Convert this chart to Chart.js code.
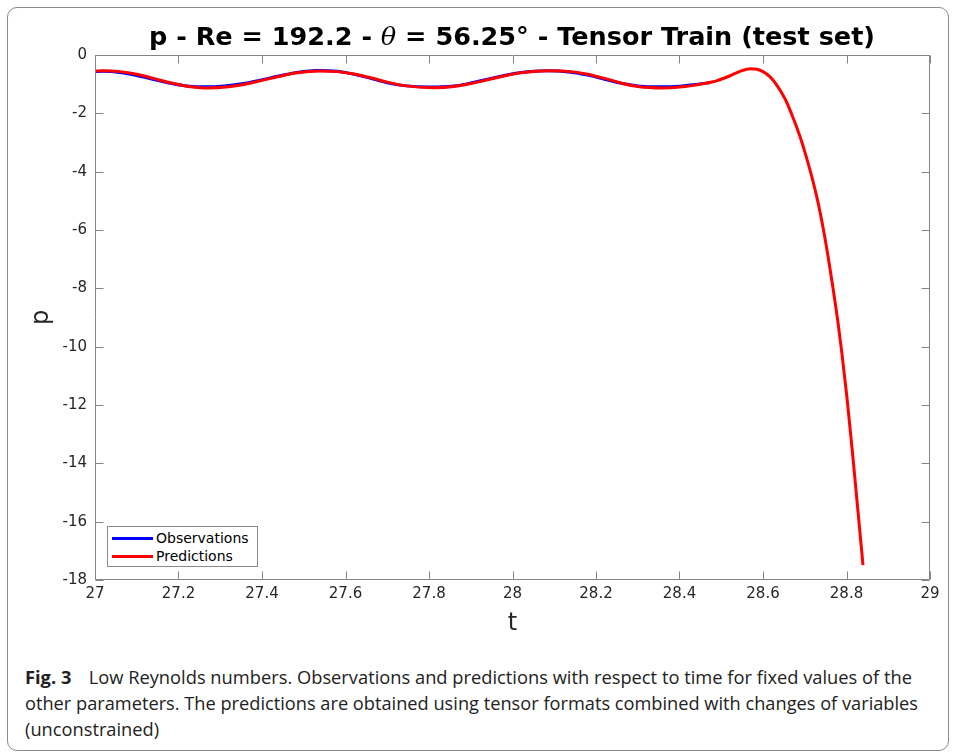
<!DOCTYPE html>
<html>
<head>
<meta charset="utf-8">
<script src="https://cdn.jsdelivr.net/npm/chart.js@4"></script>
<style>
  html, body { margin:0; padding:0; background:#fff; width:956px; height:753px; overflow:hidden; }
  #frame { position:absolute; left:7px; top:7px; width:942px; height:744px; border:1px solid #8a8a8a; border-radius:10px; box-sizing:border-box; }
  #chartBox { position:absolute; left:0; top:0; width:956px; height:650px; }
  #title { position:absolute; left:149px; top:22px; white-space:nowrap; font-family:'DejaVu Sans'; font-weight:bold; font-size:24px; line-height:30px; color:#000; transform-origin:left top; }
  #title i { font-family:'DejaVu Serif'; font-weight:normal; font-style:italic; }
  #legend { position:absolute; left:107px; top:526px; width:151px; height:41px; border:1px solid #8a8a8a; background:#fff; box-sizing:border-box; font-family:'DejaVu Sans'; font-size:14px; color:#000; }
  .lg { position:absolute; left:4px; height:18px; line-height:18px; white-space:nowrap; }
  .lg span.sw { display:inline-block; width:41px; height:3px; vertical-align:middle; margin-right:3px; position:relative; top:-1px; }
  .cap { position:absolute; left:25px; white-space:nowrap; font-family:'Open Sans'; font-size:18px; line-height:24px; color:#222; transform-origin:left top; }
  .cap b { font-weight:bold; margin-right:17px; }
</style>
</head>
<body>
<div id="frame"></div>
<div id="chartBox"><canvas id="c" width="956" height="650"></canvas></div>
<div id="title">p - Re = 192.2 - <i>θ</i> = 56.25° - Tensor Train (test set)</div>
<div id="legend"></div>
<div class="cap" id="cap1" style="top:665px"><b>Fig. 3</b>Low Reynolds numbers. Observations and predictions with respect to time for fixed values of the</div>
<div class="cap" id="cap2" style="top:691px">other parameters. The predictions are obtained using tensor formats combined with changes of variables</div>
<div class="cap" id="cap3" style="top:717px">(unconstrained)</div>
<script>
// ---- data ----
const obsT = [27.00,27.02,27.06,27.10,27.14,27.18,27.22,27.26,27.31,27.36,27.40,27.44,27.48,27.53,27.58,27.62,27.66,27.70,27.74,27.80,27.86,27.90,27.94,27.98,28.02,28.08,28.14,28.18,28.22,28.26,28.30,28.35,28.40,28.44,28.475];
const obsP = [-0.57,-0.56,-0.60,-0.70,-0.84,-0.97,-1.06,-1.09,-1.06,-0.97,-0.85,-0.72,-0.61,-0.53,-0.56,-0.66,-0.80,-0.95,-1.05,-1.10,-1.06,-0.96,-0.83,-0.70,-0.60,-0.54,-0.59,-0.69,-0.83,-0.97,-1.06,-1.09,-1.07,-1.01,-0.94];
const predT = [27.00,27.02,27.06,27.10,27.14,27.18,27.22,27.27,27.32,27.36,27.40,27.44,27.48,27.54,27.58,27.62,27.66,27.70,27.74,27.81,27.86,27.90,27.94,27.98,28.02,28.09,28.14,28.18,28.22,28.26,28.30,28.36,28.40,28.43,28.46,28.49,28.52,28.545,28.57,28.585,28.60,28.617,28.633,28.653,28.669,28.689,28.703,28.717,28.732,28.744,28.756,28.768,28.780,28.789,28.801,28.813,28.825,28.8395];
const predP = [-0.55,-0.54,-0.57,-0.66,-0.80,-0.95,-1.07,-1.13,-1.09,-1.00,-0.87,-0.74,-0.62,-0.55,-0.57,-0.65,-0.78,-0.93,-1.05,-1.12,-1.08,-0.98,-0.85,-0.72,-0.61,-0.54,-0.57,-0.66,-0.80,-0.96,-1.08,-1.13,-1.10,-1.05,-0.98,-0.88,-0.72,-0.56,-0.47,-0.49,-0.57,-0.75,-1.03,-1.51,-2.04,-2.81,-3.46,-4.18,-5.07,-5.93,-6.92,-8.02,-9.21,-10.23,-11.73,-13.44,-15.26,-17.49];
const xTicks = [27,27.2,27.4,27.6,27.8,28,28.2,28.4,28.6,28.8,29];
const xTickLabels = ['27','27.2','27.4','27.6','27.8','28','28.2','28.4','28.6','28.8','29'];
const yTicks = [-18,-16,-14,-12,-10,-8,-6,-4,-2,0];
const yTickLabels = ['-18','-16','-14','-12','-10','-8','-6','-4','-2','0'];
const seriesNames = ['Observations','Predictions'];
const seriesColors = ['#0000ff','#ff0000'];

const toXY = (T,P) => T.map((t,i)=>({x:t,y:P[i]}));

const frameTicks = {
  id:'frameTicks',
  afterDraw(chart){
    const {ctx, chartArea:a, scales:{x,y}} = chart;
    const L = Math.round(a.left)+0.5, R = Math.round(a.right)-0.5, T = Math.round(a.top)+0.5, B = Math.round(a.bottom)-0.5;
    const len = 8;
    ctx.save();
    ctx.strokeStyle = '#858585';
    ctx.lineWidth = 1;
    ctx.beginPath();
    ctx.rect(L, T, R-L, B-T);
    xTicks.forEach(v=>{
      const px = Math.round(x.getPixelForValue(v))+0.5;
      ctx.moveTo(px,B); ctx.lineTo(px,B-len);
      ctx.moveTo(px,T); ctx.lineTo(px,T+len);
    });
    yTicks.forEach(v=>{
      const py = Math.round(y.getPixelForValue(v))+0.5;
      ctx.moveTo(L,py); ctx.lineTo(L+len,py);
      ctx.moveTo(R,py); ctx.lineTo(R-len,py);
    });
    ctx.stroke();
    ctx.restore();
  }
};

const tickFont = {family:'DejaVu Sans', size:15};
const chart = new Chart(document.getElementById('c'), {
  type:'line',
  data:{ datasets:[
    {label:seriesNames[0], data:toXY(obsT,obsP), borderColor:seriesColors[0], borderWidth:3, pointRadius:0, fill:false, cubicInterpolationMode:'monotone', order:1},
    {label:seriesNames[1], data:toXY(predT,predP), borderColor:seriesColors[1], borderWidth:3, pointRadius:0, fill:false, cubicInterpolationMode:'monotone', order:0}
  ]},
  options:{
    responsive:false, animation:false, devicePixelRatio:1,
    layout:{padding:{top:55,right:26,left:0,bottom:0}},
    plugins:{legend:{display:false}, tooltip:{enabled:false}, title:{display:false}},
    scales:{
      x:{
        type:'linear', min:27, max:29,
        afterBuildTicks(s){ s.ticks = xTicks.map(v=>({value:v})); },
        afterFit(s){ s.height = 70; },
        ticks:{ callback:(v,i)=>xTickLabels[i], font:tickFont, color:'#262626', padding:5, maxRotation:0, autoSkip:false },
        grid:{ display:false, drawTicks:false }, border:{display:false},
        title:{ display:true, text:'t', font:{family:'DejaVu Sans', size:24}, color:'#262626', padding:{top:0,bottom:12} }
      },
      y:{
        type:'linear', min:-18, max:0,
        afterBuildTicks(s){ s.ticks = yTicks.map(v=>({value:v})); },
        afterFit(s){ s.width = 95; },
        ticks:{ callback:(v,i)=>yTickLabels[i], font:tickFont, color:'#262626', padding:8, autoSkip:false },
        grid:{ display:false, drawTicks:false }, border:{display:false},
        title:{ display:true, text:'p', font:{family:'DejaVu Sans', size:24}, color:'#262626', padding:{top:27,bottom:0} }
      }
    }
  },
  plugins:[frameTicks]
});

// legend built from the chart datasets
const lg = document.getElementById('legend');
chart.data.datasets.forEach((ds,i)=>{
  const d = document.createElement('div');
  d.className = 'lg';
  d.style.top = (2 + i*18) + 'px';
  d.innerHTML = '<span class="sw" style="background:'+ds.borderColor+'"></span>' + ds.label;
  lg.appendChild(d);
});

function fit(id, w){
  const el = document.getElementById(id);
  el.style.transform = 'none';
  const k = w / el.getBoundingClientRect().width;
  el.style.transform = 'scaleX(' + k + ')';
  return k;
}
function layoutText(){
  fit('title', 726);
  const k1 = fit('cap1', 887);
  const k2 = fit('cap2', 893);
  document.getElementById('cap3').style.transform = 'scaleX(' + ((k1+k2)/2) + ')';
}
layoutText();
if (document.fonts && document.fonts.ready) document.fonts.ready.then(layoutText);
</script>
</body>
</html>
